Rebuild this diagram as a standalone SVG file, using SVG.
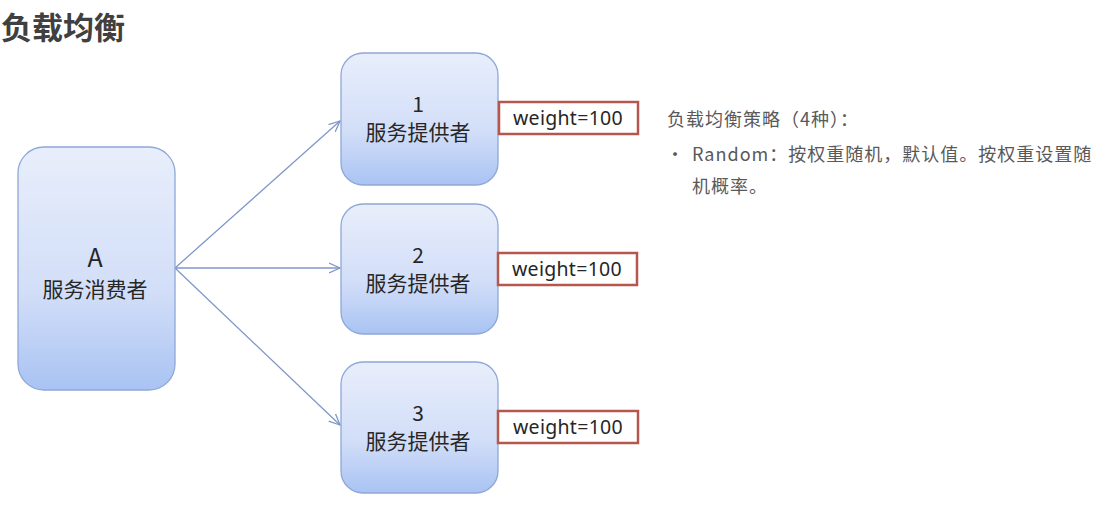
<svg xmlns="http://www.w3.org/2000/svg" width="1106" height="508" viewBox="0 0 1106 508">
<style>
.node{stroke:#8ea8d8;stroke-width:1.3;fill:url(#g)}
.t{font-family:"Noto Sans CJK SC","Liberation Sans",sans-serif;fill:#262626;text-anchor:middle}
.w{font-family:"Noto Sans","Liberation Sans",sans-serif;fill:#262626;font-size:19.5px;letter-spacing:0.3px;text-anchor:middle}
.wb{fill:#fff;stroke:#b5574e;stroke-width:2.5}
.c{stroke:#7f97c8;stroke-width:1.3;fill:none;marker-end:url(#a)}
.r{font-family:"Noto Sans CJK SC","Liberation Sans",sans-serif;fill:#595959;font-size:18px;letter-spacing:1px}
</style>
<defs>
<linearGradient id="g" x1="0" y1="0" x2="0" y2="1">
<stop offset="0" stop-color="#e8eefb"/>
<stop offset="0.6" stop-color="#d2def8"/>
<stop offset="1" stop-color="#a9c3f3"/>
</linearGradient>
<marker id="a" viewBox="0 0 12 12" refX="11" refY="6" markerWidth="12" markerHeight="12" markerUnits="userSpaceOnUse" orient="auto">
<path d="M0,1 L11,6 L0,11" fill="none" stroke="#7f97c8" stroke-width="1.3"/>
</marker>
</defs>
<rect width="1106" height="508" fill="#fff"/>
<text x="1" y="39" font-family="Noto Sans CJK SC,sans-serif" font-weight="bold" font-size="31" fill="#404040">负载均衡</text>
<g id="connectors">
<line class="c" x1="175" y1="268" x2="340" y2="121"/>
<line class="c" x1="175" y1="268" x2="340" y2="268"/>
<line class="c" x1="175" y1="268" x2="340" y2="425"/>
</g>
<g id="nodeA">
<rect class="node" x="18" y="147" width="157" height="243" rx="26"/>
<text class="t" x="95" y="267" font-size="25">A</text>
<text class="t" x="95" y="297" font-size="21">服务消费者</text>
</g>
<g id="node1">
<rect class="node" x="341" y="53" width="157" height="132" rx="22"/>
<text class="t" x="418" y="112" font-size="21">1</text>
<text class="t" x="418" y="140" font-size="21">服务提供者</text>
</g>
<g id="node2">
<rect class="node" x="341" y="204" width="157" height="130" rx="22"/>
<text class="t" x="418" y="263" font-size="21">2</text>
<text class="t" x="418" y="291" font-size="21">服务提供者</text>
</g>
<g id="node3">
<rect class="node" x="341" y="362" width="157" height="131" rx="22"/>
<text class="t" x="418" y="421" font-size="21">3</text>
<text class="t" x="418" y="449" font-size="21">服务提供者</text>
</g>
<g id="weight1">
<rect class="wb" x="499" y="102" width="139" height="32"/>
<text class="w" x="568" y="125">weight=100</text>
</g>
<g id="weight2">
<rect class="wb" x="498" y="253" width="139" height="32"/>
<text class="w" x="567" y="276">weight=100</text>
</g>
<g id="weight3">
<rect class="wb" x="498" y="411" width="140" height="32"/>
<text class="w" x="568" y="434">weight=100</text>
</g>
<g id="notes">
<text class="r" x="667" y="126">负载均衡策略（4种）：</text>
<text class="r" x="666" y="161">•</text>
<text class="r" x="692" y="161">Random：按权重随机，默认值。按权重设置随</text>
<text class="r" x="692" y="193">机概率。</text>
</g>
</svg>
